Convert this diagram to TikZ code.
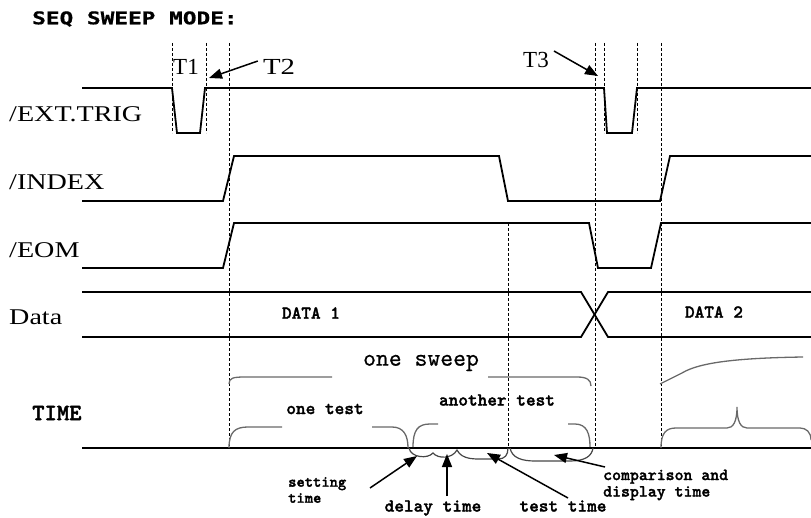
\documentclass[tikz,border=0pt]{standalone}
\usepackage{fontspec}
\setmainfont{Liberation Serif}
\newfontfamily\sigfont[FakeStretch=1.25]{Liberation Serif}
\newfontfamily\tfont{Liberation Serif}
\newfontfamily\smono[FakeBold=1.6]{lmmonolt10-bold.otf}
\newfontfamily\rmono[FakeBold=0.6]{lmmono10-regular.otf}
\newfontfamily\titlefont[FakeStretch=1.3,FakeBold=0.8]{DejaVu Sans Mono Bold}
\usetikzlibrary{arrows.meta}
\definecolor{bracegray}{RGB}{105,105,105}
\definecolor{wavegray}{RGB}{70,70,70}
\begin{document}
\begin{tikzpicture}[x=1pt,y=-1pt,
  sig/.style={line width=1.8pt, line join=miter},
  guide/.style={line width=0.9pt, dash pattern=on 3pt off 2pt},
  bracepath/.style={line width=1.3pt, draw=bracegray},
  wave/.style={line width=1.2pt, draw=wavegray},
  ptr/.style={line width=1.5pt, -{Triangle[length=13pt,width=10pt]}},
  siglabel/.style={anchor=west, inner sep=0pt, font=\sigfont\fontsize{22.5}{24}\selectfont},
  tlabel/.style={inner sep=0pt, font=\tfont\fontsize{23}{24}\selectfont},
  small/.style={inner sep=0pt, font=\smono\fontsize{18.4}{14}\selectfont},
]
\useasboundingbox (0,0) rectangle (811,518);

% title and row labels
\node[anchor=west, inner sep=0pt, font=\titlefont\fontsize{17.5}{18}\selectfont] (title) at (32,19) {SEQ SWEEP MODE:};
\node[siglabel] (lext) at (9,114) {/EXT.TRIG};
\node[siglabel] (lidx) at (9,182) {/INDEX};
\node[siglabel] (leom) at (9,250) {/EOM};
\node[siglabel] (ldata) at (9,317) {Data};
\node[anchor=west, inner sep=0pt, font=\smono\fontsize{23.5}{20}\selectfont] (ltime) at (32,413) {TIME};

% dashed guides
\draw[guide] (172,43) -- (172,133);
\draw[guide] (206,43) -- (206,133);
\draw[guide] (229,43) -- (229,448);
\draw[guide] (508,223) -- (508,448);
\draw[guide] (595,43) -- (595,448);
\draw[guide] (604,43) -- (604,133);
\draw[guide] (637,43) -- (637,133);
\draw[guide] (661,43) -- (661,448);

% signals
\draw[sig] (82,88) -- (172,88) -- (177,133) -- (200,133) -- (205,88) -- (604,88) -- (607,133) -- (632,133) -- (637,88) -- (811,88);
\draw[sig] (82,201) -- (223,201) -- (234,156) -- (499,156) -- (508,201) -- (660,201) -- (670,156) -- (811,156);
\draw[sig] (82,268) -- (223,268) -- (234,223) -- (589,223) -- (598,268) -- (651,268) -- (661,223) -- (811,223);
\draw[sig] (82,292) -- (581,292) -- (608,337) -- (811,337);
\draw[sig] (82,337) -- (581,337) -- (608,292) -- (811,292);
\draw[sig] (82,448) -- (811,448);

% T labels and arrows
\node[tlabel] (t1) at (186,67) {T1};
\node[tlabel, font=\sigfont\fontsize{23}{24}\selectfont] (t2) at (279,67) {T2};
\node[tlabel] (t3) at (536,60) {T3};
\coordinate (t2tip) at (209,78);
\coordinate (t3tip) at (598,76);
\draw[ptr] ([xshift=-5pt,yshift=6pt]t2.west) -- (t2tip);
\draw[ptr] ([xshift=5pt,yshift=9pt]t3.east) -- (t3tip);

% data labels
\node[small] (d1) at (311,313) {DATA 1};
\node[small] (d2) at (714,312) {DATA 2};

% braces above axis
\node[inner sep=0pt, font=\rmono\fontsize{24.5}{22}\selectfont] (lsweep) at (421,363) {one sweep};
\node[small] (ltest1) at (325,409) {one test};
\node[small] (ltest2) at (497,400) {another test};

\draw[bracepath] (229,384) .. controls (229,378) and (233,377) .. (245,377) -- (332,377);
\draw[bracepath] (488,377) -- (577,377) .. controls (587,377) and (591,380) .. (591,386);
\draw[bracepath] (229,448) .. controls (229,432) and (235,427) .. (248,427) -- (282,427);
\draw[bracepath] (372,427) -- (392,427) .. controls (404,427) and (408,436) .. (408,448);
\draw[bracepath] (413,447) .. controls (413,430) and (418,424) .. (430,424) -- (438,424);
\draw[bracepath] (568,424) -- (575,424) .. controls (587,424) and (590,434) .. (590,447);
\draw[bracepath] (660,384) -- (682,373) .. controls (700,362) and (740,358) .. (803,357);
\draw[bracepath] (661,448) .. controls (661,433) and (666,428) .. (676,428) -- (727,428)
  .. controls (733,428) and (737,422) .. (737,407)
  .. controls (737,422) and (741,428) .. (747,428) -- (800,428)
  .. controls (806,428) and (811,432) .. (811,440);

% braces below axis
\draw[wave] (409,448) .. controls (411,458) and (428,459) .. (433,453)
  .. controls (438,459) and (452,459) .. (457,450)
  .. controls (462,460) and (475,459) .. (485,459) -- (498,459)
  .. controls (505,459) and (508,455) .. (508,448);
\draw[wave] (510,448) .. controls (512,458) and (522,461) .. (535,461) -- (570,461)
  .. controls (585,461) and (592,456) .. (593,448);

% bottom labels and arrows
\node[small, font=\smono\fontsize{15.8}{16}\selectfont, align=left, anchor=west] (lset) at (288,490) {setting\\time};
\node[small] (ldelay) at (433,508) {delay time};
\node[small] (ltt) at (563,506) {test time};
\node[small, font=\smono\fontsize{17}{16.5}\selectfont, align=left, anchor=west] (lcmp) at (603,485) {comparison and\\display time};

\coordinate (settail) at (370,488);
\coordinate (settip) at (417,456);
\coordinate (delaytail) at (447,496);
\coordinate (delaytip) at (447,454);
\coordinate (testtail) at (568,498);
\coordinate (testtip) at (487,453);
\coordinate (cmptail) at (605,467);
\coordinate (cmptip) at (554,455);
\draw[ptr] (settail) -- (settip);
\draw[ptr] (delaytail) -- (delaytip);
\draw[ptr] (testtail) -- (testtip);
\draw[ptr] (cmptail) -- (cmptip);
\end{tikzpicture}
\end{document}
